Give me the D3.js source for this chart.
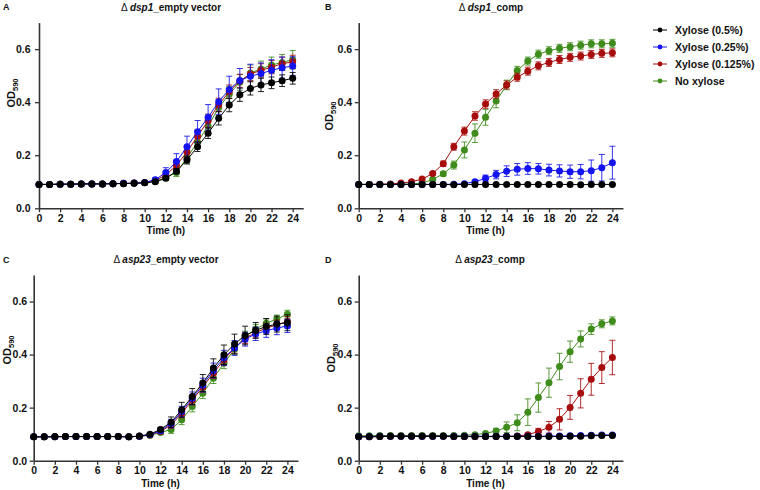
<!DOCTYPE html>
<html>
<head>
<meta charset="utf-8">
<script src="https://cdn.jsdelivr.net/npm/d3@7"></script>
<style>
  html, body { margin: 0; padding: 0; background: #fff; }
  svg { display: block; font-family: "Liberation Sans", Arial, sans-serif; }
</style>
</head>
<body>
<svg id="chart" width="760" height="490"></svg>
<script>
// ---------- DATA ----------
const times = [0,1,2,3,4,5,6,7,8,9,10,11,12,13,14,15,16,17,18,19,20,21,22,23,24];
const xTicks = [0,2,4,6,8,10,12,14,16,18,20,22,24];
const yTicks = [0, 0.2, 0.4, 0.6];
const yTickLabels = ["0.0", "0.2", "0.4", "0.6"];
const seriesNames = ["Xylose (0.5%)", "Xylose (0.25%)", "Xylose (0.125%)", "No xylose"];
const seriesColors = ["#000000", "#1414f0", "#a80d0d", "#3f8c1c"];
const panelTitles = ["dsp1", "dsp1", "asp23", "asp23"];
const panelSuffix = ["_empty vector", "_comp", "_empty vector", "_comp"];
const panelLetters = ["A", "B", "C", "D"];

// Panel A  (Δdsp1_empty vector)
const aBlack = [0.09,0.09,0.091,0.091,0.092,0.092,0.092,0.093,0.093,0.094,0.096,0.1,0.113,0.14,0.182,0.232,0.283,0.339,0.389,0.428,0.452,0.465,0.473,0.481,0.49];
const aBlue  = [0.09,0.09,0.091,0.091,0.092,0.092,0.092,0.093,0.094,0.095,0.097,0.108,0.135,0.176,0.232,0.289,0.343,0.402,0.448,0.482,0.498,0.508,0.52,0.53,0.536];
const aRed   = [0.09,0.09,0.091,0.091,0.092,0.092,0.092,0.093,0.094,0.095,0.097,0.105,0.125,0.162,0.212,0.272,0.33,0.39,0.44,0.48,0.506,0.52,0.532,0.545,0.552];
const aGreen = [0.09,0.09,0.091,0.091,0.092,0.092,0.092,0.093,0.093,0.094,0.096,0.102,0.115,0.135,0.19,0.25,0.31,0.38,0.43,0.475,0.51,0.525,0.54,0.55,0.56];
const aBlackErr = [0.002,0.002,0.002,0.002,0.002,0.002,0.002,0.002,0.002,0.002,0.002,0.004,0.006,0.01,0.015,0.018,0.02,0.025,0.025,0.025,0.025,0.025,0.022,0.022,0.022];
const aBlueErr  = [0.002,0.002,0.002,0.002,0.002,0.002,0.002,0.002,0.002,0.002,0.003,0.006,0.018,0.03,0.04,0.042,0.048,0.048,0.05,0.045,0.045,0.04,0.04,0.04,0.035];
const aRedErr   = [0.002,0.002,0.002,0.002,0.002,0.002,0.002,0.002,0.002,0.002,0.003,0.005,0.012,0.018,0.02,0.022,0.025,0.025,0.025,0.025,0.025,0.025,0.025,0.025,0.025];
const aGreenErr = [0.002,0.002,0.002,0.002,0.002,0.002,0.002,0.002,0.002,0.002,0.003,0.005,0.01,0.015,0.02,0.025,0.03,0.03,0.03,0.03,0.03,0.03,0.03,0.03,0.035];

// Panel B  (Δdsp1_comp)
const bBlack = [0.09,0.09,0.09,0.09,0.09,0.09,0.09,0.09,0.09,0.089,0.09,0.09,0.09,0.09,0.09,0.09,0.09,0.09,0.09,0.09,0.09,0.089,0.09,0.09,0.09];
const bBlue  = [0.09,0.09,0.09,0.09,0.09,0.09,0.09,0.09,0.09,0.091,0.093,0.1,0.113,0.127,0.14,0.147,0.15,0.149,0.144,0.141,0.138,0.138,0.142,0.153,0.172];
const bRed   = [0.09,0.09,0.091,0.092,0.095,0.1,0.11,0.131,0.168,0.232,0.291,0.348,0.393,0.431,0.465,0.494,0.517,0.537,0.55,0.561,0.569,0.574,0.58,0.584,0.586];
const bGreen = [0.09,0.09,0.09,0.09,0.091,0.092,0.095,0.109,0.13,0.163,0.22,0.283,0.343,0.404,0.465,0.519,0.555,0.581,0.594,0.603,0.609,0.615,0.62,0.62,0.622];
const bBlackErr = [0.002,0.002,0.002,0.002,0.002,0.002,0.002,0.002,0.002,0.002,0.002,0.002,0.002,0.002,0.002,0.002,0.002,0.002,0.002,0.002,0.002,0.002,0.002,0.002,0.002];
const bBlueErr  = [0.002,0.002,0.002,0.002,0.002,0.002,0.002,0.002,0.002,0.002,0.004,0.006,0.012,0.016,0.02,0.022,0.022,0.02,0.022,0.023,0.025,0.027,0.04,0.05,0.062];
const bRedErr   = [0.002,0.002,0.002,0.002,0.003,0.004,0.005,0.007,0.01,0.013,0.015,0.016,0.016,0.016,0.015,0.015,0.015,0.015,0.015,0.015,0.015,0.015,0.015,0.015,0.015];
const bGreenErr = [0.002,0.002,0.002,0.002,0.002,0.002,0.003,0.005,0.008,0.015,0.03,0.035,0.03,0.025,0.018,0.016,0.015,0.015,0.015,0.015,0.015,0.015,0.015,0.015,0.015];

// Panel C  (Δasp23_empty vector)
const cBlack = [0.09,0.09,0.091,0.091,0.091,0.091,0.091,0.091,0.091,0.09,0.093,0.1,0.118,0.145,0.192,0.242,0.293,0.349,0.399,0.44,0.472,0.491,0.506,0.515,0.52];
const cBlue  = [0.09,0.09,0.09,0.091,0.091,0.091,0.091,0.091,0.091,0.09,0.092,0.098,0.113,0.14,0.185,0.235,0.285,0.34,0.388,0.425,0.458,0.478,0.49,0.5,0.508];
const cRed   = [0.09,0.09,0.09,0.091,0.091,0.091,0.091,0.091,0.091,0.09,0.092,0.097,0.11,0.135,0.178,0.228,0.278,0.33,0.38,0.425,0.462,0.483,0.5,0.512,0.525];
const cGreen = [0.09,0.09,0.09,0.091,0.091,0.091,0.091,0.091,0.091,0.09,0.092,0.096,0.106,0.118,0.154,0.204,0.254,0.311,0.367,0.42,0.468,0.496,0.518,0.534,0.552];
const cBlackErr = [0.002,0.002,0.002,0.002,0.002,0.002,0.002,0.002,0.002,0.002,0.002,0.004,0.008,0.02,0.028,0.03,0.032,0.035,0.037,0.037,0.035,0.03,0.03,0.03,0.03];
const cBlueErr  = [0.002,0.002,0.002,0.002,0.002,0.002,0.002,0.002,0.002,0.002,0.002,0.004,0.008,0.016,0.02,0.024,0.026,0.028,0.028,0.028,0.026,0.025,0.025,0.025,0.025];
const cRedErr   = [0.002,0.002,0.002,0.002,0.002,0.002,0.002,0.002,0.002,0.002,0.002,0.004,0.007,0.012,0.016,0.018,0.02,0.02,0.02,0.02,0.02,0.018,0.018,0.018,0.018];
const cGreenErr = [0.002,0.002,0.002,0.002,0.002,0.002,0.002,0.002,0.002,0.002,0.002,0.004,0.007,0.015,0.018,0.02,0.02,0.02,0.02,0.02,0.02,0.018,0.016,0.015,0.015];

// Panel D  (Δasp23_comp)
const dBlack = [0.09,0.09,0.091,0.092,0.092,0.092,0.092,0.092,0.092,0.091,0.091,0.091,0.091,0.091,0.091,0.091,0.091,0.091,0.091,0.091,0.092,0.092,0.094,0.095,0.095];
const dBlue  = [0.091,0.091,0.092,0.092,0.092,0.092,0.092,0.092,0.092,0.092,0.092,0.092,0.092,0.092,0.092,0.092,0.092,0.092,0.093,0.093,0.094,0.095,0.096,0.097,0.097];
const dRed   = [0.09,0.09,0.091,0.092,0.092,0.092,0.092,0.092,0.092,0.091,0.091,0.091,0.091,0.091,0.092,0.093,0.098,0.11,0.126,0.156,0.201,0.254,0.307,0.351,0.389];
const dGreen = [0.094,0.094,0.095,0.095,0.095,0.095,0.095,0.095,0.095,0.095,0.096,0.098,0.103,0.112,0.126,0.143,0.183,0.238,0.294,0.355,0.411,0.459,0.496,0.516,0.527];
const dBlackErr = [0.002,0.002,0.002,0.002,0.002,0.002,0.002,0.002,0.002,0.002,0.002,0.002,0.002,0.002,0.002,0.002,0.002,0.002,0.002,0.002,0.002,0.002,0.002,0.002,0.002];
const dBlueErr  = [0.002,0.002,0.002,0.002,0.002,0.002,0.002,0.002,0.002,0.002,0.002,0.002,0.002,0.002,0.002,0.002,0.002,0.002,0.002,0.002,0.002,0.002,0.002,0.002,0.002];
const dRedErr   = [0.002,0.002,0.002,0.002,0.002,0.002,0.002,0.002,0.002,0.002,0.002,0.002,0.002,0.002,0.002,0.004,0.007,0.012,0.022,0.04,0.045,0.055,0.06,0.06,0.065];
const dGreenErr = [0.002,0.002,0.002,0.002,0.002,0.002,0.002,0.002,0.002,0.002,0.002,0.002,0.004,0.01,0.02,0.03,0.05,0.055,0.055,0.05,0.04,0.03,0.02,0.015,0.015];

// ---------- LAYOUT ----------
const panels = [
  { values: [aBlack, aBlue, aRed, aGreen], errs: [aBlackErr, aBlueErr, aRedErr, aGreenErr],
    x0: 39, yTop: 22.6, yBot: 208.3, titleX: 171, titleY: 10.5, letterX: 3, letterY: 9.5,
    odX: 15, odY: 93, tickPad: 4.5 },
  { values: [bBlack, bBlue, bRed, bGreen], errs: [bBlackErr, bBlueErr, bRedErr, bGreenErr],
    x0: 358.7, yTop: 22.6, yBot: 208.3, titleX: 491, titleY: 10.5, letterX: 325, letterY: 9.5,
    odX: 333, odY: 116, tickPad: 2.5 },
  { values: [cBlack, cBlue, cRed, cGreen], errs: [cBlackErr, cBlueErr, cRedErr, cGreenErr],
    x0: 33.7, yTop: 275, yBot: 460.7, titleX: 166, titleY: 262.5, letterX: 3, letterY: 263,
    odX: 11, odY: 350, tickPad: 2.5 },
  { values: [dBlack, dBlue, dRed, dGreen], errs: [dBlackErr, dBlueErr, dRedErr, dGreenErr],
    x0: 358.7, yTop: 275, yBot: 460.7, titleX: 490, titleY: 262.5, letterX: 325, letterY: 263,
    odX: 335, odY: 358, tickPad: 2.5 }
];

const svg = d3.select("#chart");
const axisColor = "#333";
const drawOrder = [3, 2, 1, 0]; // green, red, blue, black on top

panels.forEach((p, pi) => {
  const x = d3.scaleLinear().domain([0, 25]).range([p.x0, p.x0 + 25 * 10.57]);
  const y = d3.scaleLinear().domain([0, 0.7]).range([p.yBot, p.yTop]);
  const g = svg.append("g");

  // axes
  const xAxis = d3.axisBottom(x).tickValues(xTicks).tickSize(4).tickSizeOuter(0).tickPadding(2);
  const yAxis = d3.axisLeft(y).tickValues(yTicks).tickFormat((d, i) => yTickLabels[i]).tickSize(4).tickSizeOuter(0).tickPadding(p.tickPad);
  const gx = g.append("g").attr("transform", `translate(0,${p.yBot})`).call(xAxis);
  const gy = g.append("g").attr("transform", `translate(${p.x0},0)`).call(yAxis);
  [gx, gy].forEach(a => {
    a.select(".domain").attr("stroke", axisColor).attr("stroke-width", 1.6);
    a.selectAll(".tick line").attr("stroke", axisColor).attr("stroke-width", 1.3);
    a.selectAll(".tick text").attr("fill", "#111").attr("font-size", 10.5).attr("font-weight", "bold")
      .attr("font-family", "'Liberation Sans', Arial, sans-serif");
  });

  // x label
  g.append("text").attr("x", x(12)).attr("y", p.yBot + 26).attr("text-anchor", "middle")
    .attr("font-size", 10).attr("font-weight", "bold").attr("fill", "#111").text("Time (h)");

  // y label OD590
  const od = g.append("text").attr("transform", `translate(${p.odX},${p.odY}) rotate(-90)`)
    .attr("text-anchor", "middle").attr("font-size", 11).attr("font-weight", "bold").attr("fill", "#111");
  od.append("tspan").text("OD");
  od.append("tspan").attr("font-size", 7.5).attr("dy", 3).text("590");

  // title
  const t = g.append("text").attr("x", p.titleX).attr("y", p.titleY).attr("text-anchor", "middle")
    .attr("font-size", 10).attr("font-weight", "bold").attr("fill", "#111");
  t.append("tspan").attr("font-weight", "normal").text("Δ ");
  t.append("tspan").attr("font-style", "italic").text(panelTitles[pi]);
  t.append("tspan").text(panelSuffix[pi]);

  // panel letter
  g.append("text").attr("x", p.letterX).attr("y", p.letterY).attr("font-size", 9)
    .attr("font-weight", "bold").attr("fill", "#111").text(panelLetters[pi]);

  // series
  const line = d3.line().x((d, i) => x(times[i])).y(d => y(d));
  drawOrder.forEach(si => {
    const vals = p.values[si];
    const errs = p.errs[si];
    const col = seriesColors[si];
    const sg = g.append("g");
    // error bars
    const eb = sg.selectAll("g.eb").data(vals).enter().append("g").attr("class", "eb");
    eb.append("line").attr("x1", (d, i) => x(times[i])).attr("x2", (d, i) => x(times[i]))
      .attr("y1", (d, i) => y(d + errs[i])).attr("y2", (d, i) => y(d - errs[i]))
      .attr("stroke", col).attr("stroke-width", 1).attr("opacity", 0.85);
    [1, -1].forEach(sgn => {
      eb.append("line").attr("x1", (d, i) => x(times[i]) - 3).attr("x2", (d, i) => x(times[i]) + 3)
        .attr("y1", (d, i) => y(d + sgn * errs[i])).attr("y2", (d, i) => y(d + sgn * errs[i]))
        .attr("stroke", col).attr("stroke-width", 1).attr("opacity", 0.85);
    });
    sg.append("path").datum(vals).attr("d", line).attr("fill", "none")
      .attr("stroke", col).attr("stroke-width", 1);
    sg.selectAll("circle").data(vals).enter().append("circle")
      .attr("cx", (d, i) => x(times[i])).attr("cy", d => y(d)).attr("r", 3.5).attr("fill", col);
  });
});

// legend
const legend = svg.append("g");
seriesNames.forEach((name, i) => {
  const yy = 30 + i * 17;
  legend.append("line").attr("x1", 653).attr("x2", 667).attr("y1", yy).attr("y2", yy)
    .attr("stroke", seriesColors[i]).attr("stroke-width", 1);
  legend.append("circle").attr("cx", 660).attr("cy", yy).attr("r", 2.4).attr("fill", seriesColors[i]);
  legend.append("text").attr("x", 675).attr("y", yy + 3.6).attr("font-size", 10.5)
    .attr("font-weight", "bold").attr("fill", "#111").text(name);
});
</script>
</body>
</html>
